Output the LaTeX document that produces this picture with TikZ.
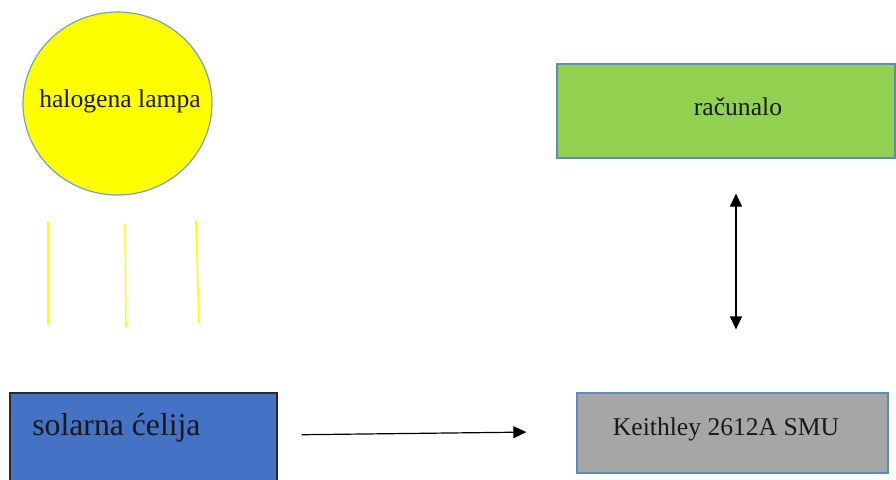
\documentclass[tikz,border=0pt]{standalone}
\usepackage{fontspec}
\setmainfont{Liberation Serif}
\usetikzlibrary{shapes.geometric,arrows.meta}
\definecolor{lampY}{HTML}{FFFF00}
\definecolor{lampB}{HTML}{7D9EC0}
\definecolor{pcG}{HTML}{92D050}
\definecolor{edgeB}{HTML}{5B8BC0}
\definecolor{cellB}{HTML}{4472C4}
\definecolor{cellE}{HTML}{2A2A2A}
\definecolor{smuG}{HTML}{A6A6A6}
\begin{document}
\begin{tikzpicture}[x=0.5pt,y=-0.5pt,
  txt/.style={inner sep=0pt, font=\fontsize{12.8pt}{15pt}\selectfont, text=black!90},
  bigtxt/.style={inner sep=0pt, font=\fontsize{15.85pt}{18pt}\selectfont, text=black!90},
  boxstyle/.style={draw, line width=0.6pt, inner sep=0pt},
  ray/.style={draw=lampY, line width=0.8pt},
  arr/.style={draw=black, line width=0.6pt, -{Triangle[length=6.5pt,width=6pt]}},
  dblarr/.style={draw=black, line width=0.6pt, {Triangle[length=6.5pt,width=6pt]}-{Triangle[length=6.5pt,width=6pt]}}]
\useasboundingbox (0,0) rectangle (896,479);
\begin{scope}
\clip (0,0) rectangle (896,479);
% lamp
\node[ellipse, draw=lampB, fill=lampY, line width=0.6pt, inner sep=0pt,
      minimum width=94.5pt, minimum height=91.5pt] (lamp) at (117.5,103.5) {};
\node[txt, anchor=base] (lampT) at (120,107) {halogena lampa};
% rays
\coordinate (r1a) at (48,222); \coordinate (r1b) at (48,325);
\coordinate (r2a) at (125,224); \coordinate (r2b) at (126,327);
\coordinate (r3a) at (196,221); \coordinate (r3b) at (199,323);
\draw[ray] (r1a) -- (r1b);
\draw[ray] (r2a) -- (r2b);
\draw[ray] (r3a) -- (r3b);
% computer
\node[boxstyle, draw=edgeB, fill=pcG, minimum width=169pt, minimum height=47pt] (pc) at (726,111) {};
\node[txt, anchor=base] (pcT) at (738,115) {računalo};
% solar cell (runs past the lower edge)
\node[boxstyle, draw=cellE, fill=cellB, minimum width=133.5pt, minimum height=50pt] (cell) at (143.5,443) {};
\node[bigtxt, anchor=base west] (cellT) at (32,435) {solarna ćelija};
% SMU
\node[boxstyle, draw=edgeB, fill=smuG, minimum width=155.5pt, minimum height=40pt] (smu) at (732.5,433) {};
\node[txt, anchor=base] (smuT) at (726,435) {Keithley 2612A SMU};
% connectors
\draw[arr, shorten <=12pt, shorten >=25pt] (cell.east |- cellT.base) -- ([yshift=0.75pt]smu.west);
\coordinate (vx) at (736,0);
\draw[dblarr, shorten <=17.5pt, shorten >=31.5pt] (pc.south -| vx) -- (smu.north -| vx);
\end{scope}
\end{tikzpicture}
\end{document}
